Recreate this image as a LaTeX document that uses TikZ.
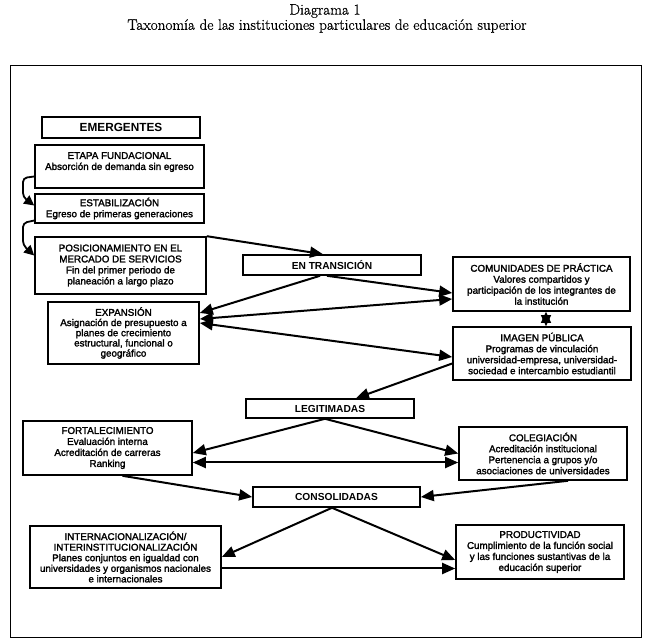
\documentclass[tikz,border=0pt]{standalone}
\usepackage{fontspec}
\newfontfamily\arialf[FakeBold=2]{Liberation Sans}
\newfontfamily\arialb{Liberation Sans Bold}
\newfontfamily\ttlf[FakeBold=0.6]{Latin Modern Roman}
\usetikzlibrary{arrows.meta,shadows}
\begin{document}
\begin{tikzpicture}[x=1pt,y=-1pt,
  box/.style={draw, line width=1.6pt, fill=white, inner sep=1pt, align=center,
    font=\arialf\fontsize{9.8}{11}\selectfont,
    drop shadow={shadow xshift=1pt, shadow yshift=-1pt, fill=black, opacity=1}},
  hdr/.style={box, font=\arialb\fontsize{10.2}{12}\selectfont},
  arr/.style={line width=2pt, -{Triangle[length=13pt,width=11pt]}},
  darr/.style={line width=2pt, {Triangle[length=13pt,width=11pt]}-{Triangle[length=13pt,width=11pt]}},
  sarr/.style={line width=1.8pt, rounded corners=4pt, -{Triangle[length=10pt,width=10pt]}},
  ttl/.style={font=\ttlf\fontsize{15.2}{16}\selectfont}
]
\useasboundingbox (0,0) rectangle (649,644);
\node[ttl] (t1) at (325,11) {Diagrama 1};
\node[ttl] (t2) at (327,26) {Taxonomía de las instituciones particulares de educación superior};
\node[draw, line width=1pt, minimum width=631pt, minimum height=572pt, inner sep=0pt] (frame) at (325.5,352) {};

\node[hdr, minimum width=158pt, minimum height=21pt, font=\arialb\fontsize{11.8}{14}\selectfont] (emer) at (121,127.5) {EMERGENTES};
\node[box, minimum width=169pt, minimum height=43pt] (etapa) at (119.5,166.5) {ETAPA FUNDACIONAL\\Absorción de demanda sin egreso\\\mbox{}};
\node[box, minimum width=169pt, minimum height=29pt] (estab) at (119.5,208.5) {ESTABILIZACIÓN\\Egreso de primeras generaciones};
\node[box, minimum width=171pt, minimum height=57pt] (posic) at (120.5,265.5) {POSICIONAMIENTO EN EL\\MERCADO DE SERVICIOS\\Fin del primer periodo de\\planeación a largo plazo};
\node[hdr, minimum width=178pt, minimum height=20pt] (trans) at (332,265) {EN TRANSICIÓN};
\node[box, minimum width=177pt, minimum height=54pt] (comun) at (541.5,284) {COMUNIDADES DE PRÁCTICA\\Valores compartidos y\\participación de los integrantes de\\la institución};
\node[box, minimum width=151pt, minimum height=62pt, font=\arialf\fontsize{9.8}{10.2}\selectfont] (expan) at (123.5,333) {EXPANSIÓN\\Asignación de presupuesto a\\planes de crecimiento\\estructural, funcional o\\geográfico};
\node[box, minimum width=178pt, minimum height=53pt] (imagen) at (542,353.5) {IMAGEN PÚBLICA\\Programas de vinculación\\universidad-empresa, universidad-\\sociedad e intercambio estudiantil};
\node[hdr, minimum width=168pt, minimum height=19pt] (legit) at (330,408.5) {LEGITIMADAS};
\node[box, minimum width=169pt, minimum height=54pt] (fort) at (107.5,448) {FORTALECIMIENTO\\Evaluación interna\\Acreditación de carreras\\Ranking};
\node[box, minimum width=168pt, minimum height=53pt] (coleg) at (543,453.5) {COLEGIACIÓN\\Acreditación institucional\\Pertenencia a grupos y/o\\asociaciones de universidades};
\node[hdr, minimum width=167pt, minimum height=20pt] (consol) at (336.5,497) {CONSOLIDADAS};
\node[box, minimum width=191pt, minimum height=62pt, font=\arialf\fontsize{9.8}{10.6}\selectfont] (inter) at (125.5,557) {INTERNACIONALIZACIÓN/\\INTERINSTITUCIONALIZACIÓN\\Planes conjuntos en igualdad con\\universidades y organismos nacionales\\e internacionales};
\node[box, minimum width=168pt, minimum height=54pt] (produc) at (540,552) {PRODUCTIVIDAD\\Cumplimiento de la función social\\y las funciones sustantivas de la\\educación superior};

% connectors
\draw[sarr] ([yshift=-10pt]etapa.west) -- (23,178) -- (23,197) -- ([yshift=3pt]estab.west);
\draw[sarr] ([yshift=-12pt]estab.west) -- (23,223) -- (23,245) -- ([yshift=10pt]posic.west);
\draw[arr] (posic.north east) -- ([xshift=-9pt]trans.north);
\draw[arr] ([xshift=-12pt]trans.south) -- ([yshift=20pt]expan.east);
\draw[arr] ([xshift=-5pt]trans.south) -- ([yshift=-9pt]comun.west);
\draw[darr] ([yshift=-15pt]comun.west) -- ([yshift=14pt]expan.east);
\draw[darr] ([yshift=10pt]expan.east) -- ([yshift=-3.5pt]imagen.west);
\draw[line width=1.5pt, {Triangle[length=11pt,width=10pt]}-{Triangle[length=11pt,width=10pt]}] ([xshift=4.5pt]comun.south) -- ([xshift=4pt]imagen.north);
\draw[arr] ([yshift=-10pt]imagen.west) -- ([xshift=26pt]legit.north);
\draw[arr] ([xshift=-5pt]legit.south) -- ([yshift=-5pt]fort.east);
\draw[arr] ([xshift=-5pt]legit.south) -- (coleg.west);
\draw[darr] ([yshift=-14.5pt]fort.east) -- ([yshift=-9pt]coleg.west);
\draw[arr] ([xshift=15pt]fort.south) -- (consol.west);
\draw[arr] ([xshift=25pt]coleg.south) -- (consol.east);
\draw[arr] ([xshift=-4.5pt]consol.south) -- (inter.east);
\draw[arr] ([xshift=-4.5pt]consol.south) -- ([yshift=-8pt]produc.west);
\draw[arr] ([yshift=-11.5pt]inter.east) -- ([yshift=-16.5pt]produc.west);
\end{tikzpicture}
\end{document}
